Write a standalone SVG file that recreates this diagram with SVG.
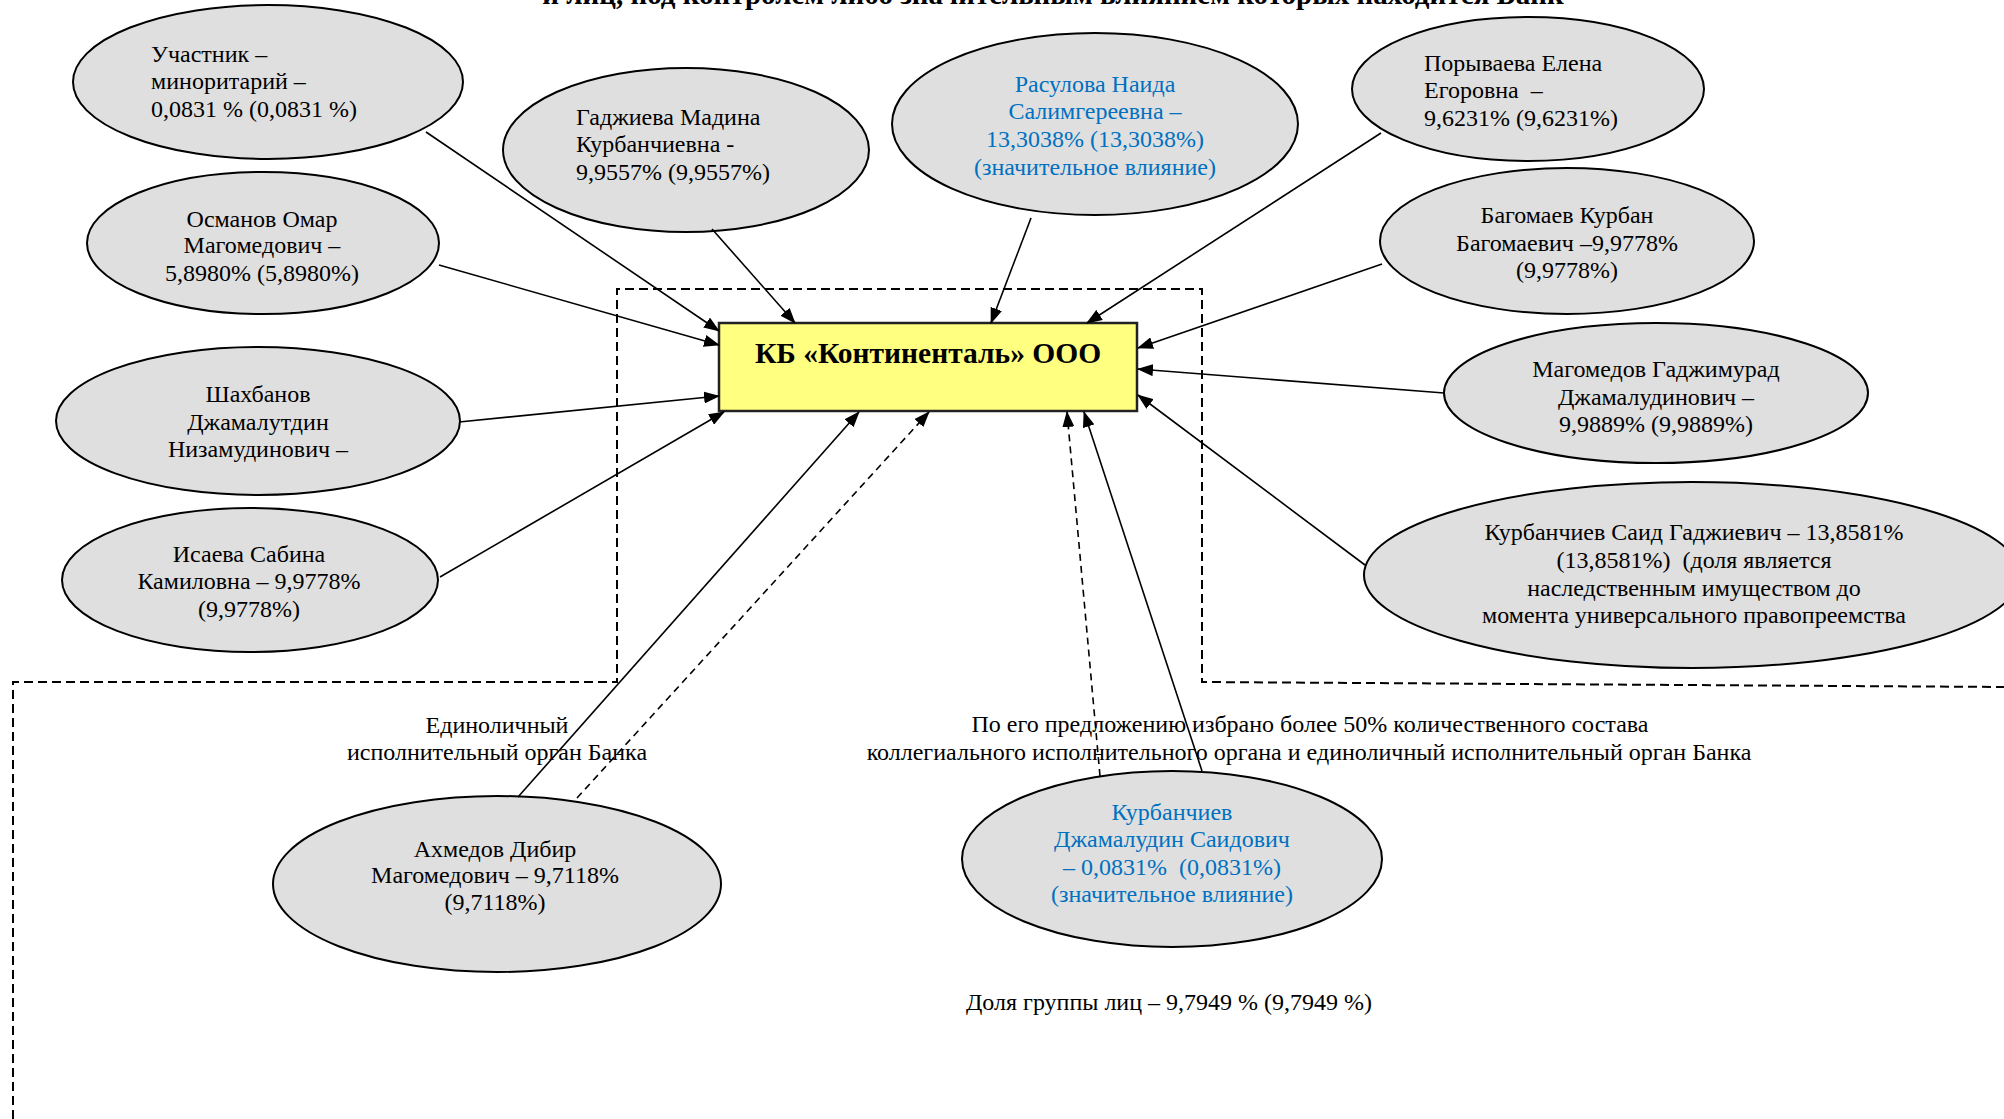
<svg xmlns="http://www.w3.org/2000/svg" width="2004" height="1119" viewBox="0 0 2004 1119">
<defs>
<marker id="ah" markerUnits="userSpaceOnUse" markerWidth="16" markerHeight="12" refX="15" refY="6" orient="auto">
<path d="M0,0 L16,6 L0,12 Z" fill="#000"/>
</marker>
<style>
.n ellipse{fill:#DFDFDF;stroke:#000;stroke-width:2}
text{font-family:"Liberation Serif","Times New Roman",serif;font-size:24px;fill:#000;white-space:pre}
.c{text-anchor:middle}
.b{fill:#0070C0}
.con line{stroke:#000;stroke-width:1.6;marker-end:url(#ah)}
.con line.d{stroke-dasharray:7,5}
.frame{fill:none;stroke:#000;stroke-width:2;stroke-dasharray:9,5}
</style>
</defs>
<rect width="2004" height="1119" fill="#fff"/>
<text x="1053" y="4" class="c" style="font-weight:bold;font-size:29px">и лиц, под контролем либо значительным влиянием которых находится Банк</text>
<path class="frame" d="M13,1119 L13,682 L617,682 L617,289 L1202,289 L1202,682 L2004,687"/>
<g id="bank">
<rect x="719" y="323" width="418" height="88" fill="#FFFF80" stroke="#222" stroke-width="2.5"/>
<text x="928" y="363" class="c" style="font-weight:bold;font-size:29.5px">КБ «Континенталь» ООО</text>
</g>
<g id="n1" class="n"><ellipse cx="268" cy="82" rx="195" ry="77"/>
<text x="151" y="62">Участник –</text><text x="151" y="89">миноритарий –</text><text x="151" y="117">0,0831 % (0,0831 %)</text></g>
<g id="n2" class="n"><ellipse cx="686" cy="150" rx="183" ry="82"/>
<text x="576" y="125">Гаджиева Мадина</text><text x="576" y="152">Курбанчиевна -</text><text x="576" y="180">9,9557% (9,9557%)</text></g>
<g id="n3" class="n"><ellipse cx="1095" cy="124" rx="203" ry="91"/>
<text x="1095" y="92" class="c b">Расулова Наида</text><text x="1095" y="119" class="c b">Салимгереевна –</text><text x="1095" y="147" class="c b">13,3038% (13,3038%)</text><text x="1095" y="175" class="c b">(значительное влияние)</text></g>
<g id="n4" class="n"><ellipse cx="1528" cy="89" rx="176" ry="72"/>
<text x="1424" y="71">Порываева Елена</text><text x="1424" y="98">Егоровна  –</text><text x="1424" y="126">9,6231% (9,6231%)</text></g>
<g id="n5" class="n"><ellipse cx="1567" cy="241" rx="187" ry="73"/>
<text x="1567" y="223" class="c">Багомаев Курбан</text><text x="1567" y="251" class="c">Багомаевич –9,9778%</text><text x="1567" y="278" class="c">(9,9778%)</text></g>
<g id="n6" class="n"><ellipse cx="1656" cy="393" rx="212" ry="70"/>
<text x="1656" y="377" class="c">Магомедов Гаджимурад</text><text x="1656" y="405" class="c">Джамалудинович –</text><text x="1656" y="432" class="c">9,9889% (9,9889%)</text></g>
<g id="n7" class="n"><ellipse cx="1692" cy="575" rx="328" ry="93"/>
<text x="1694" y="540" class="c">Курбанчиев Саид Гаджиевич – 13,8581%</text><text x="1694" y="568" class="c">(13,8581%)  (доля является</text><text x="1694" y="596" class="c">наследственным имуществом до</text><text x="1694" y="623" class="c">момента универсального правопреемства</text></g>
<g id="n8" class="n"><ellipse cx="263" cy="243" rx="176" ry="71"/>
<text x="262" y="227" class="c">Османов Омар</text><text x="262" y="253" class="c">Магомедович –</text><text x="262" y="281" class="c">5,8980% (5,8980%)</text></g>
<g id="n9" class="n"><ellipse cx="258" cy="421" rx="202" ry="74"/>
<text x="258" y="402" class="c">Шахбанов</text><text x="258" y="430" class="c">Джамалутдин</text><text x="258" y="457" class="c">Низамудинович –</text></g>
<g id="n10" class="n"><ellipse cx="250" cy="580" rx="188" ry="72"/>
<text x="249" y="562" class="c">Исаева Сабина</text><text x="249" y="589" class="c">Камиловна – 9,9778%</text><text x="249" y="617" class="c">(9,9778%)</text></g>
<g id="n11" class="n"><ellipse cx="497" cy="884" rx="224" ry="88"/>
<text x="495" y="857" class="c">Ахмедов Дибир</text><text x="495" y="883" class="c">Магомедович – 9,7118%</text><text x="495" y="910" class="c">(9,7118%)</text></g>
<g id="n12" class="n"><ellipse cx="1172" cy="859" rx="210" ry="88"/>
<text x="1172" y="820" class="c b">Курбанчиев</text><text x="1172" y="847" class="c b">Джамалудин Саидович</text><text x="1172" y="875" class="c b">– 0,0831%  (0,0831%)</text><text x="1172" y="902" class="c b">(значительное влияние)</text></g>
<g id="labels">
<text x="497" y="733" class="c">Единоличный</text><text x="497" y="760" class="c">исполнительный орган Банка</text>
<text x="1310" y="732" class="c">По его предложению избрано более 50% количественного состава</text>
<text x="1309" y="760" class="c">коллегиального исполнительного органа и единоличный исполнительный орган Банка</text>
<text x="1169" y="1010" class="c">Доля группы лиц – 9,7949 % (9,7949 %)</text>
</g>
<g id="connectors" class="con">
<line x1="426" y1="132" x2="719" y2="331"/>
<line x1="712" y1="229" x2="795" y2="323"/>
<line x1="1031" y1="218" x2="991" y2="323"/>
<line x1="1381" y1="133" x2="1087" y2="323"/>
<line x1="1382" y1="264" x2="1138" y2="348"/>
<line x1="1444" y1="393" x2="1138" y2="369"/>
<line x1="1365" y1="565" x2="1138" y2="395"/>
<line x1="439" y1="265" x2="719" y2="345"/>
<line x1="459" y1="422" x2="719" y2="396"/>
<line x1="440" y1="577" x2="724" y2="412"/>
<line x1="518" y1="797" x2="859" y2="412"/>
<line class="d" x1="577" y1="798" x2="929" y2="412"/>
<line class="d" x1="1100" y1="776" x2="1067" y2="412"/>
<line x1="1202" y1="771" x2="1084" y2="412"/>
</g>
</svg>
